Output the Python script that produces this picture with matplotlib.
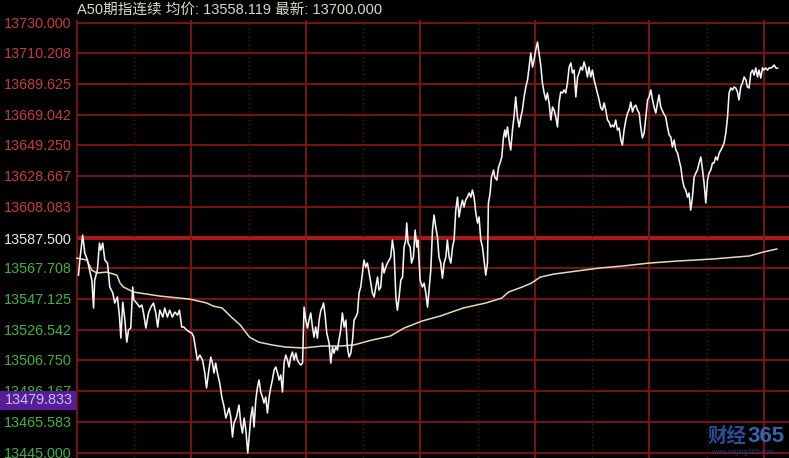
import matplotlib
matplotlib.use("Agg")
import matplotlib.pyplot as plt
from matplotlib.patches import Rectangle
from matplotlib.transforms import blended_transform_factory
import numpy as np

# ---------------- data ----------------
title_name = "A50期指连续"
avg_label = "均价"
avg_value = "13558.119"
last_label = "最新"
last_value = "13700.000"

ytick_labels = ["13730.000", "13710.208", "13689.625", "13669.042", "13649.250",
                "13628.667", "13608.083", "13587.500", "13567.708", "13547.125",
                "13526.542", "13506.750", "13486.167", "13465.583", "13445.000"]
prev_close = 13587.500
cursor_value = 13479.833

# minutes since session open
price_time = [
    0.9, 1.6, 3.1, 4.2, 5.6, 6.7, 7.9, 8.8, 9.4, 10.8, 11.9, 12.6, 13.6, 14.7, 16.1, 17.3,
    18.9, 19.9, 21.3, 22.4, 23.1, 24.1, 25.2, 26.2, 27.1, 28.3, 29.3, 29.9, 31.4, 32.9, 34.1,
    35.0, 36.2, 37.6, 38.8, 40.2, 41.4, 42.4, 43.5, 45.1, 46.1, 47.5, 48.7, 50.1, 51.4, 52.8,
    53.8, 55.0, 56.1, 57.6, 59.1, 60.3, 61.3, 62.4, 63.2, 64.5, 65.9, 67.1, 68.0, 69.0, 70.2,
    71.1, 71.9, 72.8, 73.7, 74.9, 76.0, 77.2, 78.1, 79.0, 79.8, 80.7, 81.6, 82.4, 83.7, 85.0,
    85.9, 86.8, 87.7, 88.6, 89.6, 90.3, 91.2, 92.1, 92.9, 93.8, 94.7, 95.5, 96.4, 97.3, 98.1,
    99.0, 99.9, 100.8, 101.7, 102.5, 103.4, 104.3, 105.2, 106.0, 106.9, 107.8, 108.6, 109.5,
    110.4, 111.2, 112.1, 113.0, 113.9, 114.8, 115.6, 116.5, 117.4, 118.3, 119.1, 120.0, 120.9,
    121.7, 122.6, 123.5, 124.3, 125.2, 126.1, 127.0, 127.9, 128.7, 129.3, 130.0, 131.0, 132.2,
    133.1, 134.0, 134.8, 135.7, 136.6, 137.4, 138.3, 139.2, 140.1, 141.0, 141.8, 142.7, 143.6,
    144.5, 145.3, 146.2, 147.1, 147.9, 148.8, 149.7, 150.5, 151.4, 152.3, 153.2, 154.1, 154.9,
    155.8, 156.7, 157.6, 158.4, 159.3, 160.2, 161.0, 161.9, 162.8, 163.7, 164.5, 165.4, 166.3,
    167.2, 168.0, 168.9, 169.8, 170.7, 171.5, 172.4, 172.9, 173.6, 174.7, 175.4, 176.4, 177.3,
    178.2, 178.8, 179.9, 181.1, 182.0, 182.9, 183.8, 184.6, 185.5, 186.4, 187.2, 188.1, 189.0,
    189.8, 190.7, 191.6, 192.5, 193.4, 194.2, 195.1, 196.0, 196.9, 197.7, 198.6, 199.5, 200.3,
    201.2, 202.1, 202.9, 203.8, 204.7, 205.6, 206.5, 207.3, 208.2, 209.1, 210.0, 210.8, 211.7,
    212.6, 213.4, 214.3, 215.2, 215.7, 216.6, 217.3, 218.4, 219.0, 220.1, 221.0, 221.8, 222.7,
    223.6, 224.3, 224.8, 225.7, 226.5, 227.4, 228.3, 229.1, 230.0, 230.9, 231.8, 232.7, 233.5,
    234.4, 235.3, 236.2, 237.0, 237.9, 238.8, 239.6, 240.5, 241.4, 242.2, 243.1, 244.0, 244.9,
    245.8, 246.6, 247.5, 248.4, 249.3, 250.1, 251.0, 251.9, 252.7, 253.6, 254.5, 255.3, 256.2,
    257.1, 258.0, 258.9, 259.7, 260.6, 261.5, 262.4, 263.2, 264.1, 265.0, 265.8, 266.7, 267.6,
    268.4, 269.3, 270.2, 271.1, 272.0, 272.8, 273.7, 274.6, 275.5, 276.3, 277.2, 278.1, 278.9,
    279.8, 280.7, 281.5, 282.4, 283.3, 284.2, 285.1, 285.9, 286.8, 287.7, 288.6, 289.4, 290.3,
    291.2, 292.0, 292.9, 293.8, 294.7, 295.5, 296.4, 297.3, 298.2, 299.1, 299.9, 300.8, 301.7,
    302.5, 303.4, 304.3, 305.1, 306.0, 307.4, 308.6, 309.5, 310.4, 311.3, 312.1, 313.0, 313.9,
    314.8, 315.6, 316.5, 317.4, 318.2, 319.1, 320.0, 320.8, 321.7, 322.6, 323.5, 324.4, 325.2,
    326.1, 327.0, 327.9, 328.7, 329.6, 330.5, 331.3, 332.2, 333.1, 333.9, 334.8, 335.7, 336.6,
    337.5, 338.3, 339.2, 340.1, 341.0, 341.8, 342.7, 343.6, 344.4, 345.3, 346.2, 347.0, 347.9,
    348.8, 349.7, 350.6, 351.4, 352.3, 353.2, 354.1, 354.9, 355.8, 356.7, 357.5, 358.4, 359.3,
    360.1, 361.0, 361.9, 362.8, 363.7, 364.5, 365.4, 366.3, 367.2]

price = [
    13562.9, 13572.9, 13589.4, 13577.5, 13572.9, 13566.2, 13559.6, 13541.1, 13559.6, 13566.2,
    13584.1, 13579.5, 13584.1, 13572.9, 13570.9, 13555.0, 13551.0, 13544.4, 13548.4, 13535.1,
    13521.2, 13545.0, 13533.1, 13518.5, 13526.5, 13527.8, 13555.0, 13546.4, 13544.4, 13541.7,
    13543.1, 13537.8, 13527.8, 13537.8, 13541.7, 13544.4, 13537.8, 13528.5, 13539.7, 13535.1,
    13541.1, 13535.1, 13539.7, 13535.1, 13538.4, 13536.4, 13539.7, 13528.5, 13528.5, 13526.5,
    13525.2, 13524.5, 13521.8, 13513.2, 13506.6, 13509.9, 13506.6, 13498.0, 13488.1, 13498.0,
    13508.6, 13504.6, 13498.0, 13504.6, 13498.0, 13491.4, 13482.1, 13475.5, 13468.2, 13471.5,
    13474.8, 13468.8, 13455.6, 13464.8, 13468.8, 13476.8, 13464.8, 13458.2, 13468.2, 13460.2,
    13445.0, 13455.6, 13468.8, 13475.5, 13462.2, 13480.1, 13488.7, 13493.4, 13485.4, 13482.1,
    13478.1, 13482.1, 13471.5, 13482.1, 13488.7, 13493.4, 13500.0, 13502.0, 13498.0, 13493.4,
    13496.7, 13485.4, 13504.6, 13509.9, 13506.6, 13502.0, 13508.6, 13511.9, 13506.6, 13511.2,
    13506.6, 13504.6, 13503.3, 13504.6, 13541.7, 13533.1, 13527.8, 13533.1, 13537.8, 13528.5,
    13521.8, 13528.5, 13521.2, 13533.1, 13539.7, 13541.7, 13544.4, 13537.8, 13524.5, 13517.9,
    13504.6, 13515.2, 13511.2, 13515.2, 13513.2, 13519.9, 13526.5, 13537.8, 13528.5, 13533.1,
    13515.2, 13508.6, 13511.2, 13519.9, 13533.1, 13535.1, 13537.8, 13551.0, 13555.0, 13564.3,
    13572.9, 13568.2, 13570.9, 13564.3, 13557.6, 13551.0, 13548.4, 13555.0, 13561.6, 13553.0,
    13555.0, 13570.9, 13564.3, 13568.2, 13570.9, 13572.9, 13574.9, 13586.1, 13577.5, 13548.4,
    13539.7, 13548.4, 13559.6, 13561.6, 13581.5, 13586.1, 13597.4, 13584.1, 13581.5, 13570.9,
    13574.9, 13592.8, 13581.5, 13586.1, 13559.6, 13555.0, 13557.6, 13551.0, 13541.7, 13553.0,
    13566.2, 13592.8, 13602.7, 13594.7, 13588.1, 13574.9, 13570.9, 13560.9, 13570.9, 13574.9,
    13586.1, 13574.9, 13570.9, 13581.5, 13586.1, 13606.0, 13614.6, 13601.4, 13608.0, 13612.6,
    13608.0, 13612.6, 13614.6, 13617.3, 13614.6, 13619.3, 13614.6, 13604.0, 13597.4, 13601.4,
    13586.1, 13581.5, 13572.9, 13562.9, 13570.9, 13610.7, 13617.3, 13627.9, 13632.5, 13627.9,
    13625.9, 13634.5, 13637.2, 13641.2, 13654.4, 13659.1, 13654.4, 13661.1, 13652.4, 13645.8,
    13659.1, 13667.7, 13681.0, 13667.7, 13661.1, 13667.7, 13672.3, 13681.0, 13687.6, 13692.2,
    13700.8, 13710.1, 13700.8, 13705.5, 13712.1, 13717.4, 13710.1, 13702.2, 13690.2, 13683.6,
    13679.0, 13683.6, 13677.0, 13665.7, 13674.3, 13672.3, 13667.7, 13661.1, 13677.0, 13684.3,
    13683.6, 13685.6, 13683.6, 13690.2, 13700.8, 13703.5, 13696.9, 13698.8, 13681.0, 13694.2,
    13696.9, 13700.8, 13698.8, 13704.2, 13700.2, 13694.2, 13700.8, 13694.2, 13698.8, 13692.2,
    13687.6, 13683.6, 13679.0, 13673.7, 13672.3, 13677.0, 13672.3, 13665.7, 13664.4, 13661.1,
    13662.4, 13661.1, 13665.7, 13659.1, 13660.4, 13652.4, 13649.1, 13659.1, 13665.7, 13670.3,
    13672.3, 13677.6, 13671.0, 13674.3, 13675.6, 13672.3, 13670.3, 13661.1, 13653.8, 13657.1,
    13667.7, 13679.0, 13681.0, 13685.6, 13679.0, 13674.3, 13670.3, 13677.0, 13682.3, 13674.3,
    13670.3, 13667.7, 13661.1, 13655.8, 13654.4, 13647.8, 13652.4, 13645.8, 13643.8, 13639.2,
    13634.5, 13625.9, 13621.3, 13619.3, 13614.6, 13617.3, 13606.0, 13614.6, 13627.9, 13630.6,
    13632.5, 13637.2, 13641.2, 13632.5, 13623.9, 13610.7, 13625.9, 13630.6, 13632.5, 13637.2,
    13637.2, 13641.2, 13639.2, 13643.8, 13645.8, 13647.8, 13650.5, 13657.1, 13667.7, 13683.6,
    13686.9, 13685.6, 13687.6, 13686.9, 13684.3, 13679.0, 13687.6, 13690.2, 13694.2, 13692.2,
    13687.6, 13686.9, 13696.9, 13698.8, 13695.5, 13700.2, 13694.2, 13698.8, 13693.5, 13700.2,
    13698.8, 13700.2, 13698.8, 13700.2, 13700.2, 13700.8, 13702.2, 13700.2, 13700.0]

avg_time = [0.0, 5.2, 7.9, 10.5, 15.7, 21.0, 22.7, 24.5, 29.7, 43.5, 59.2, 68.1, 71.5, 76.2,
            81.0, 85.7, 90.5, 95.3, 102.4, 109.5, 119.0, 128.6, 138.1, 145.1, 154.8, 164.3,
            171.5, 181.0, 190.5, 202.5, 214.3, 222.7, 226.3, 233.4, 238.2, 242.9, 250.0,
            262.0, 273.9, 285.8, 300.1, 314.4, 333.5, 352.5, 359.7, 366.8]
avg_price = [13574.2, 13572.9, 13566.2, 13564.3, 13564.9, 13562.9, 13557.6, 13555.0, 13551.7,
             13549.0, 13547.0, 13544.4, 13542.4, 13541.1, 13535.1, 13529.8, 13521.8, 13518.5,
             13516.6, 13515.2, 13514.6, 13515.9, 13515.9, 13516.6, 13519.9, 13522.5, 13527.8,
             13532.5, 13535.8, 13541.1, 13544.4, 13547.7, 13551.7, 13555.0, 13557.6, 13561.6,
             13563.6, 13565.6, 13567.6, 13568.9, 13570.9, 13572.2, 13573.6, 13575.6, 13578.2,
             13580.2]

hour_lines = [0, 60, 120, 180, 240, 300, 360]
half_hour_lines = [30, 90, 150, 210, 270, 330]

# ---------------- figure ----------------
W, H = 789, 458
fig = plt.figure(figsize=(W / 100, H / 100), dpi=100, facecolor="black")
ax = fig.add_axes([76 / W, 0.0, 1 - 76 / W, 1 - 20 / H])
ax.set_facecolor("black")
for s in ax.spines.values():
    s.set_visible(False)

tick_vals = [float(t) for t in ytick_labels]
# pixel scale: 13730 at y=23, 13445 at y=453
ppx = (13730 - 13445) / 430.0
ax.set_ylim(13445 - 5 * ppx, 13730 + 3 * ppx)
ax.set_xlim(-0.4, 373.2)

grid_c = "#801616"
for v in tick_vals:
    if abs(v - prev_close) < 1e-6:
        ax.axhline(v, color="#a81a1a", lw=3.0, zorder=1)
    else:
        ax.axhline(v, color=grid_c, lw=1.3, zorder=1)
for t in hour_lines:
    ax.axvline(t, color=grid_c, lw=1.3, zorder=1)
for t in half_hour_lines:
    ax.axvline(t, color="#5a1414", lw=1.0, ls=(0, (1, 2)), zorder=1)

ax.plot(avg_time, avg_price, color="#e6dab0", lw=1.1, zorder=3)
ax.plot(price_time, price, color="#f4f4f4", lw=1.15, zorder=4)

ax.set_xticks([])
ax.set_yticks(tick_vals)
ax.set_yticklabels(ytick_labels, fontsize=10.4, family="Liberation Sans")
ax.tick_params(axis="y", length=0, pad=3)
for lab, v in zip(ax.get_yticklabels(), tick_vals):
    if v > prev_close + 1e-6:
        lab.set_color("#c83a3a")
    elif abs(v - prev_close) < 1e-6:
        lab.set_color("#e8e8e8")
    else:
        lab.set_color("#3cb43c")

# cursor value box on the axis
tr = blended_transform_factory(fig.transFigure, ax.transData)
half_h = 9.5 * ppx
ax.add_patch(Rectangle((0, cursor_value - half_h), 76 / W, 2 * half_h, transform=tr,
                       facecolor="#5a1c98", edgecolor="none", clip_on=False, zorder=10))
ax.text(73 / W, cursor_value, f"{cursor_value:.3f}", transform=tr, ha="right", va="center",
        fontsize=10.4, family="Liberation Sans", color="#b8c8f4", zorder=11, clip_on=False)

# header
header = f"{title_name} {avg_label}: {avg_value} {last_label}: {last_value}"
fig.text(77 / W, 1 - 10 / H, header, ha="left", va="center", fontsize=10.5,
         family=["Liberation Sans", "Noto Sans CJK SC"], color="#dcd8c2")

# watermark
fig.text(708 / W, 1 - 436 / H, "财经", ha="left", va="center", fontsize=14,
         family=["Noto Sans CJK SC"], color="#2c58a8", fontweight="bold", alpha=0.9)
fig.text(747 / W, 1 - 436 / H, "365", ha="left", va="center", fontsize=16,
         family=["Liberation Sans"], color="#3a70c0", fontweight="bold", alpha=0.9)
fig.text(711 / W, 1 - 453 / H, "www.caijing365.com", ha="left", va="center", fontsize=5,
         family=["Liberation Sans"], color="#203c70")

fig.savefig("out.png", dpi=100, facecolor="black")
